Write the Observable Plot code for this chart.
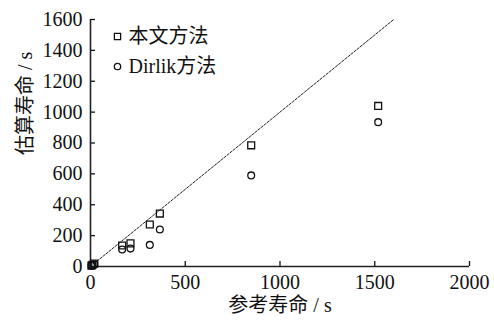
<!DOCTYPE html>
<html>
<head>
<meta charset="utf-8">
<script src="https://cdn.jsdelivr.net/npm/d3@7"></script>
<script src="https://cdn.jsdelivr.net/npm/@observablehq/plot@0.6"></script>
<style>
  html, body { margin: 0; padding: 0; background: #fff; }
  #chart { position: relative; width: 494px; height: 320px; }
</style>
</head>
<body>
<div id="chart"></div>
<script>
// Reference life (x) and estimated life (y), seconds
const refLife   = [5, 10, 20, 167, 211, 313, 366, 848, 1518];
const present   = [5, 10, 19, 136, 150, 272, 343, 785, 1040];
const dirlik    = [4, 8, 15, 110, 116, 140, 240, 590, 935];
const seriesNames = ["本文方法", "Dirlik方法"];
const xTicks = [0, 500, 1000, 1500, 2000];
const yTicks = [0, 200, 400, 600, 800, 1000, 1200, 1400, 1600];
const diagonal = [0, 1600];
const xTitle = "参考寿命 / s";
const yTitle = "估算寿命 / s";

const ptsPresent = refLife.map((x, i) => ({x, y: present[i]}));
const ptsDirlik = refLife.map((x, i) => ({x, y: dirlik[i]}));
const diag = diagonal.map(v => ({x: v, y: v}));

const font = "'Liberation Serif', 'Noto Sans CJK SC', serif";
const fmt = d3.format("d");

const chart = Plot.plot({
  width: 494,
  height: 320,
  marginLeft: 90,
  marginRight: 25,
  marginTop: 19,
  marginBottom: 54,
  style: {fontFamily: font, fontSize: "20px", color: "#111", background: "#fff"},
  x: {domain: [0, 2000]},
  y: {domain: [0, 1600]},
  marks: [
    Plot.line(diag, {x: "x", y: "y", stroke: "#222", strokeWidth: 1, strokeDasharray: "2.5,1.5"}),
    Plot.axisX({ticks: xTicks, tickSize: 0, tickPadding: 8, tickFormat: fmt, label: null, fontSize: 20, fontFamily: font, fill: "#111"}),
    Plot.axisY({ticks: yTicks, tickSize: 0, tickPadding: 8, tickFormat: fmt, label: null, fontSize: 20, fontFamily: font, fill: "#111"}),
    Plot.axisX({ticks: xTicks, tickSize: -5, text: null, label: null, strokeWidth: 1.3}),
    Plot.axisY({ticks: yTicks, tickSize: -5, text: null, label: null, strokeWidth: 1.3}),
    Plot.ruleX([0], {stroke: "#222", strokeWidth: 1.6}),
    Plot.ruleY([0], {stroke: "#222", strokeWidth: 1.6}),
    Plot.dot(ptsPresent, {x: "x", y: "y", symbol: "square", r: 3.9, stroke: "#111", strokeWidth: 1.3, fill: "none"}),
    Plot.dot(ptsDirlik, {x: "x", y: "y", symbol: "circle", r: 3.4, stroke: "#111", strokeWidth: 1.3, fill: "none"}),
    // legend
    Plot.dot([seriesNames[0]], {frameAnchor: "top-left", dx: 27, dy: 17, symbol: "square", r: 3.5, stroke: "#111", strokeWidth: 1.3, fill: "none"}),
    Plot.dot([seriesNames[1]], {frameAnchor: "top-left", dx: 27, dy: 47, symbol: "circle", r: 3.2, stroke: "#111", strokeWidth: 1.3, fill: "none"}),
    Plot.text([seriesNames[0]], {text: d => d, frameAnchor: "top-left", dx: 38, dy: 17, lineAnchor: "middle", textAnchor: "start", fontSize: 20, fontFamily: font, fill: "#111"}),
    Plot.text([seriesNames[1]], {text: d => d, frameAnchor: "top-left", dx: 38, dy: 47, lineAnchor: "middle", textAnchor: "start", fontSize: 20, fontFamily: font, fill: "#111"}),
    // axis titles
    Plot.text([xTitle], {text: d => d, frameAnchor: "bottom", dy: 39, lineAnchor: "middle", fontSize: 20, fontFamily: font, fill: "#111"}),
    Plot.text([yTitle], {text: d => d, frameAnchor: "left", dx: -65, dy: 12, lineAnchor: "middle", rotate: -90, fontSize: 20, fontFamily: font, fill: "#111"})
  ]
});
document.getElementById("chart").appendChild(chart);
</script>
</body>
</html>
